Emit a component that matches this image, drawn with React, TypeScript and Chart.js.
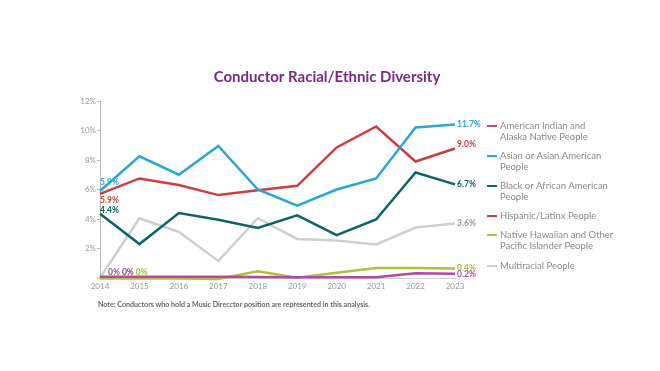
import React, { useEffect, useRef } from "react";
import { Chart, registerables } from "chart.js";
Chart.register(...registerables);

const years = ["2014", "2015", "2016", "2017", "2018", "2019", "2020", "2021", "2022", "2023"];
const yTicks = [0, 2, 4, 6, 8, 10, 12];

const seriesNames = [
  ["American Indian and", "Alaska Native People"],
  ["Asian or Asian American", "People"],
  ["Black or African American", "People"],
  ["Hispanic/Latinx People"],
  ["Native Hawaiian and Other", "Pacific Islander People"],
  ["Multiracial People"],
];
const seriesColors = ["#b8489e", "#2aa7d6", "#0f6466", "#d13d3f", "#a7c43c", "#cfcfcf"];

const americanIndian = [0.08, 0.08, 0.08, 0.08, 0.06, 0.05, 0.05, 0.05, 0.32, 0.28];
const asian = [5.9, 8.25, 7.0, 8.95, 6.0, 4.9, 6.0, 6.75, 10.2, 10.4];
const black = [4.35, 2.3, 4.4, 3.95, 3.4, 4.25, 2.9, 3.97, 7.15, 6.35];
const hispanic = [5.7, 6.75, 6.3, 5.62, 5.95, 6.25, 8.85, 10.27, 7.9, 8.78];
const nativeHawaiian = [-0.04, -0.04, -0.04, -0.06, 0.45, 0.02, 0.36, 0.68, 0.68, 0.65];
const multiracial = [0.0, 4.05, 3.12, 1.16, 4.05, 2.65, 2.55, 2.28, 3.42, 3.7];

const seriesValues = [americanIndian, asian, black, hispanic, nativeHawaiian, multiracial];

// start labels: [seriesIndex, text, dx, dy, color]
const startLabels: [number, string, number, number, string][] = [
  [1, "5.9%", 0, -9, "#2aa7d6"],
  [3, "5.9%", 0, 6, "#d13d3f"],
  [2, "4.4%", 0, -4, "#0f6466"],
];
const zeroLabels: [string, string][] = [
  ["0%", "#8a5b86"],
  ["0%", "#8e3a8c"],
  ["0%", "#a7c43c"],
];
const endLabels: [number, string, number, string][] = [
  [1, "11.7%", 0, "#2aa7d6"],
  [3, "9.0%", -4, "#d13d3f"],
  [2, "6.7%", 0, "#0f6466"],
  [5, "3.6%", 0, "#999999"],
  [4, "0.4%", 0, "#a7c43c"],
  [0, "0.2%", 0, "#b8489e"],
];

const title = "Conductor Racial/Ethnic Diversity";
const note = "Note: Conductors who hold a Music Direcctor position are represented in this analysis.";

const FONT = "Lato, 'Noto Sans', sans-serif";

export default function App() {
  const ref = useRef<HTMLCanvasElement>(null);
  useEffect(() => {
    if (!ref.current) return;
    const overlay = {
      id: "overlay",
      afterDraw(chart: any) {
        const ctx = chart.ctx as CanvasRenderingContext2D;
        const xs = chart.scales.x;
        const ys = chart.scales.y;
        ctx.save();
        ctx.fillStyle = "#7b2a84";
        ctx.font = `bold 15px ${FONT}`;
        ctx.textAlign = "center";
        ctx.textBaseline = "middle";
        ctx.fillText(title, 327, 77);
        ctx.fillStyle = "#666";
        ctx.font = `bold 7.1px ${FONT}`;
        ctx.textAlign = "left";
        ctx.fillText(note, 98, 305);
        ctx.font = `bold 8.5px ${FONT}`;
        const x0 = xs.getPixelForValue(0);
        startLabels.forEach(([si, t, dx, dy, c]) => {
          ctx.fillStyle = c;
          ctx.textAlign = "left";
          ctx.fillText(t, x0 + dx, ys.getPixelForValue(seriesValues[si][0]) + dy);
        });
        let zx = x0 + 8;
        const zy = ys.getPixelForValue(0) - 6;
        zeroLabels.forEach(([t, c]) => {
          ctx.fillStyle = c;
          ctx.fillText(t, zx, zy);
          zx += ctx.measureText(t).width + 2;
        });
        const xe = xs.getPixelForValue(years.length - 1) + 2;
        endLabels.forEach(([si, t, dy, c]) => {
          ctx.fillStyle = c;
          ctx.fillText(t, xe, ys.getPixelForValue(seriesValues[si][years.length - 1]) + dy);
        });
        const legendY = [126, 156, 186, 216, 235, 266];
        ctx.font = `9.5px ${FONT}`;
        seriesNames.forEach((lines, i) => {
          ctx.strokeStyle = seriesColors[i];
          ctx.lineWidth = 2;
          ctx.beginPath();
          ctx.moveTo(487, legendY[i]);
          ctx.lineTo(497, legendY[i]);
          ctx.stroke();
          ctx.fillStyle = "#8a8a8a";
          lines.forEach((l, k) => ctx.fillText(l, 500, legendY[i] + k * 11));
        });
        ctx.restore();
      },
    };
    const chart = new Chart(ref.current, {
      type: "line",
      data: {
        labels: years,
        datasets: seriesValues.map((v, i) => ({
          label: seriesNames[i].join(" "),
          data: v,
          borderColor: seriesColors[i],
          backgroundColor: seriesColors[i],
          borderWidth: 2.5,
          pointRadius: 0,
          tension: 0,
          clip: false as any,
        })),
      },
      options: {
        animation: false,
        responsive: false,
        maintainAspectRatio: false,
        layout: { padding: { left: 0, top: 101, right: 205, bottom: 0 } },
        plugins: { legend: { display: false }, title: { display: false }, tooltip: { enabled: false } },
        scales: {
          x: {
            offset: false,
            grid: { drawOnChartArea: false, drawTicks: false },
            border: { display: true, color: "#d0d0d0", width: 1 },
            ticks: { color: "#999", font: { size: 8, family: FONT }, padding: 4, maxRotation: 0 },
            afterFit: (s: any) => { s.height = 93; },
          },
          y: {
            min: 0,
            max: 12,
            afterBuildTicks: (s: any) => { s.ticks = yTicks.map((v) => ({ value: v })); },
            grid: { drawOnChartArea: false, drawTicks: true, tickLength: 3, color: "#bbb" },
            border: { display: true, color: "#bbb", width: 1 },
            ticks: {
              color: "#999",
              font: { size: 8, family: FONT },
              padding: 1,
              callback: (v: any) => (Number(v) === 0 ? "" : `${v}%`),
            },
            afterFit: (s: any) => { s.width = 100; },
          },
        },
      },
      plugins: [overlay],
    });
    return () => chart.destroy();
  }, []);
  return (
    <div style={{ position: "fixed", left: 0, top: 0, width: 660, height: 371, background: "#fff" }}>
      <canvas ref={ref} width={660} height={371} style={{ display: "block" }} />
    </div>
  );
}
